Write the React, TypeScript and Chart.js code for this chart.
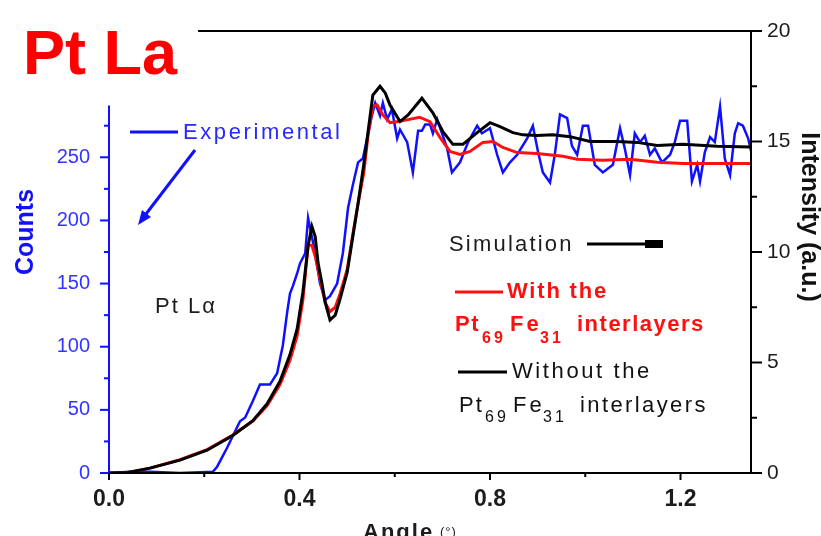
import React, { useEffect, useRef } from 'react';
import { Chart, registerables } from 'chart.js';

Chart.register(...registerables);

const FONT = '"Liberation Sans", Arial, Helvetica, sans-serif';

// ---- Experimental (Counts, left axis) ----
const expAngle = [0, 0.044, 0.086, 0.149, 0.218, 0.227, 0.248, 0.275, 0.286, 0.302, 0.317, 0.338, 0.353, 0.359, 0.365, 0.374, 0.380, 0.386, 0.395, 0.401, 0.412, 0.418, 0.426, 0.433, 0.443, 0.454, 0.464, 0.479, 0.491, 0.502, 0.512, 0.523, 0.533, 0.542, 0.552, 0.559, 0.569, 0.575, 0.584, 0.594, 0.605, 0.611, 0.626, 0.638, 0.649, 0.657, 0.664, 0.674, 0.680, 0.689, 0.710, 0.720, 0.737, 0.754, 0.773, 0.783, 0.800, 0.815, 0.827, 0.842, 0.857, 0.878, 0.890, 0.901, 0.911, 0.926, 0.936, 0.947, 0.962, 0.972, 0.983, 0.995, 1.006, 1.020, 1.037, 1.058, 1.073, 1.083, 1.094, 1.104, 1.115, 1.125, 1.136, 1.146, 1.161, 1.178, 1.188, 1.199, 1.214, 1.224, 1.235, 1.241, 1.251, 1.262, 1.272, 1.283, 1.293, 1.304, 1.314, 1.321, 1.331, 1.342, 1.348];
const expCounts = [0, 1, 1, 0, 1, 5, 20, 41, 44, 57, 70, 70, 79, 90, 101, 127, 142, 148, 158, 166, 174, 202, 187, 174, 150, 137, 140, 150, 174, 210, 228, 246, 249, 265, 283, 293, 283, 293, 280, 288, 265, 272, 262, 238, 271, 271, 276, 276, 269, 280, 257, 238, 246, 262, 275, 269, 273, 252, 238, 246, 252, 265, 275, 254, 238, 230, 252, 284, 281, 259, 252, 275, 275, 244, 238, 244, 273, 257, 236, 269, 262, 267, 252, 257, 246, 252, 262, 279, 279, 231, 244, 231, 254, 266, 262, 290, 249, 236, 269, 277, 275, 265, 255];

// ---- Simulation without the Pt69Fe31 interlayers (Intensity, right axis) ----
const withoutAngle = [0, 0.04, 0.086, 0.149, 0.206, 0.260, 0.302, 0.332, 0.359, 0.380, 0.395, 0.407, 0.418, 0.426, 0.433, 0.439, 0.447, 0.454, 0.464, 0.475, 0.485, 0.500, 0.512, 0.523, 0.535, 0.544, 0.554, 0.569, 0.580, 0.590, 0.611, 0.628, 0.657, 0.680, 0.701, 0.722, 0.743, 0.773, 0.800, 0.821, 0.848, 0.869, 0.899, 0.932, 0.968, 1.010, 1.067, 1.109, 1.151, 1.205, 1.277, 1.348];
const withoutInt = [0, 0.02, 0.22, 0.58, 1.03, 1.70, 2.37, 3.13, 4.15, 5.36, 6.52, 8.17, 10.27, 11.16, 10.7, 9.5, 8.6, 7.72, 6.92, 7.14, 7.86, 9.06, 10.7, 12.2, 13.97, 15.45, 17.1, 17.5, 17.2, 16.65, 15.9, 16.2, 16.96, 16.3, 15.45, 14.87, 14.87, 15.4, 15.85, 15.67, 15.4, 15.3, 15.27, 15.3, 15.22, 15.0, 15.0, 14.96, 14.82, 14.87, 14.78, 14.75];

// ---- Simulation with the Pt69Fe31 interlayers (Intensity, right axis) ----
const withAngle = [0, 0.04, 0.086, 0.149, 0.206, 0.260, 0.302, 0.332, 0.359, 0.380, 0.395, 0.407, 0.418, 0.426, 0.433, 0.439, 0.447, 0.454, 0.464, 0.475, 0.485, 0.500, 0.512, 0.523, 0.535, 0.544, 0.554, 0.563, 0.575, 0.590, 0.607, 0.652, 0.674, 0.695, 0.716, 0.737, 0.758, 0.785, 0.806, 0.827, 0.857, 0.899, 0.953, 0.983, 1.037, 1.094, 1.151, 1.205, 1.348];
const withInt = [0, 0.02, 0.22, 0.6, 1.06, 1.72, 2.35, 3.05, 4.0, 5.1, 6.2, 7.8, 10.3, 10.3, 9.8, 9.2, 8.4, 7.7, 7.3, 7.5, 8.1, 9.2, 10.8, 12.2, 13.6, 15.3, 16.6, 16.65, 16.2, 15.85, 15.9, 16.1, 15.9, 15.18, 14.55, 14.42, 14.55, 14.96, 15.0, 14.73, 14.5, 14.46, 14.33, 14.2, 14.15, 14.2, 14.06, 14.0, 14.0];

// ---- ticks ----
const xTicks = [0, 0.4, 0.8, 1.2];
const xMinor = [0.2, 0.6, 1.0];
const countTicks = [0, 50, 100, 150, 200, 250];
const countMinor = [25, 75, 125, 175, 225, 275];
const intTicks = [0, 5, 10, 15, 20];
const intMinor = [2.5, 7.5, 12.5, 17.5];

const X_MAX = 1.348;
const COUNTS_MAX = 350;
const COUNTS_AXIS_TOP = 291;
const INT_MAX = 20;
const TOP_LINE_START = 0.187;

const BLUE = '#1010ff';
const BLUE_TEXT = '#3434ff';
const RED = '#ff1010';
const BLACK = '#000000';
const DARK = '#1c1c1c';

function drawText(ctx: CanvasRenderingContext2D, s: string, x: number, y: number, font: string, color: string, spacing = 0, align: CanvasTextAlign = 'left') {
  ctx.font = font;
  ctx.fillStyle = color;
  ctx.textAlign = align;
  ctx.textBaseline = 'alphabetic';
  (ctx as any).letterSpacing = spacing + 'px';
  ctx.fillText(s, x, y);
  (ctx as any).letterSpacing = '0px';
}

function seg(ctx: CanvasRenderingContext2D, x1: number, y1: number, x2: number, y2: number, color: string, w: number) {
  ctx.strokeStyle = color;
  ctx.lineWidth = w;
  ctx.beginPath();
  ctx.moveTo(x1, y1);
  ctx.lineTo(x2, y2);
  ctx.stroke();
}

const decorPlugin = {
  id: 'decor',
  afterDraw(chart: any) {
    const ctx: CanvasRenderingContext2D = chart.ctx;
    const sx = chart.scales.x;
    const yl = chart.scales.yCounts;
    const yr = chart.scales.yInt;
    const { left, right, top, bottom } = chart.chartArea;
    ctx.save();
    ctx.lineCap = 'butt';

    // axes
    seg(ctx, left, yl.getPixelForValue(0) + 1, left, yl.getPixelForValue(COUNTS_AXIS_TOP), BLUE, 2);
    seg(ctx, left - 1, bottom, right + 1, bottom, BLACK, 2);
    seg(ctx, right, bottom + 1, right, top - 1, BLACK, 2);
    seg(ctx, sx.getPixelForValue(TOP_LINE_START), top, right, top, BLACK, 2);

    // left ticks
    countTicks.forEach(v => { const y = yl.getPixelForValue(v); seg(ctx, left - 9, y, left, y, BLUE, 2); });
    countMinor.forEach(v => { const y = yl.getPixelForValue(v); seg(ctx, left - 5, y, left, y, BLUE, 2); });
    // right ticks
    intTicks.forEach(v => { const y = yr.getPixelForValue(v); seg(ctx, right, y, right + 11, y, BLACK, 2); });
    intMinor.forEach(v => { const y = yr.getPixelForValue(v); seg(ctx, right, y, right + 6, y, BLACK, 2); });
    // bottom ticks
    xTicks.forEach(v => { const x = sx.getPixelForValue(v); seg(ctx, x, bottom, x, bottom + 7, BLACK, 2); });
    xMinor.forEach(v => { const x = sx.getPixelForValue(v); seg(ctx, x, bottom, x, bottom + 4, BLACK, 2); });

    // heading
    drawText(ctx, 'Pt La', 23, 74, `bold 63px ${FONT}`, '#ff0000');

    // axis titles
    ctx.save();
    ctx.translate(33, 232);
    ctx.rotate(-Math.PI / 2);
    drawText(ctx, 'Counts', 0, 0, `bold 25px ${FONT}`, BLUE, 0, 'center');
    ctx.restore();

    ctx.save();
    ctx.translate(802, 217);
    ctx.rotate(Math.PI / 2);
    drawText(ctx, 'Intensity (a.u.)', 0, 0, `bold 25px ${FONT}`, '#111111', 0, 'center');
    ctx.restore();

    drawText(ctx, 'Angle', 363, 539, `bold 22px ${FONT}`, DARK, 2);
    drawText(ctx, '(°)', 440, 536, `13px ${FONT}`, DARK, 1);

    // Experimental legend + arrow
    seg(ctx, 130, 132, 178, 132, BLUE, 3);
    drawText(ctx, 'Experimental', 183, 139, `22px ${FONT}`, '#2828ff', 2.6);
    seg(ctx, 195, 150, 146, 214, BLUE, 3);
    ctx.fillStyle = BLUE;
    ctx.beginPath();
    ctx.moveTo(138, 225);
    ctx.lineTo(151, 217);
    ctx.lineTo(142, 210);
    ctx.closePath();
    ctx.fill();

    // Pt L alpha
    drawText(ctx, 'Pt Lα', 155, 313, `22px ${FONT}`, DARK, 2);

    // Simulation legend
    drawText(ctx, 'Simulation', 449, 251, `22px ${FONT}`, DARK, 2.2);
    seg(ctx, 587, 244, 650, 244, BLACK, 3);
    ctx.fillStyle = BLACK;
    ctx.fillRect(645, 240, 18, 8);

    // With the Pt69Fe31 interlayers (red)
    seg(ctx, 455, 292, 503, 292, RED, 3);
    drawText(ctx, 'With the', 507, 298, `bold 22px ${FONT}`, RED, 1.8);
    drawText(ctx, 'Pt', 455, 331, `bold 22px ${FONT}`, RED, 1.5);
    drawText(ctx, '69', 482, 343, `bold 16px ${FONT}`, RED, 3);
    drawText(ctx, 'Fe', 510, 331, `bold 22px ${FONT}`, RED, 3);
    drawText(ctx, '31', 540, 343, `bold 16px ${FONT}`, RED, 3);
    drawText(ctx, 'interlayers', 577, 331, `bold 22px ${FONT}`, RED, 1.5);

    // Without the Pt69Fe31 interlayers (black)
    seg(ctx, 458, 372, 507, 372, BLACK, 3);
    drawText(ctx, 'Without the', 512, 378, `22px ${FONT}`, '#111111', 2.6);
    drawText(ctx, 'Pt', 459, 412, `22px ${FONT}`, '#111111', 2);
    drawText(ctx, '69', 485, 422, `16px ${FONT}`, '#111111', 3);
    drawText(ctx, 'Fe', 513, 412, `22px ${FONT}`, '#111111', 3);
    drawText(ctx, '31', 543, 422, `16px ${FONT}`, '#111111', 3);
    drawText(ctx, 'interlayers', 580, 412, `22px ${FONT}`, '#111111', 2.4);

    ctx.restore();
  },
};

export default function App() {
  const canvasRef = useRef<HTMLCanvasElement | null>(null);

  useEffect(() => {
    const canvas = canvasRef.current;
    if (!canvas) return;
    const toPts = (xs: number[], ys: number[]) => xs.map((x, i) => ({ x, y: ys[i] }));
    const chart = new Chart(canvas, {
      type: 'line',
      data: {
        datasets: [
          {
            label: 'Without the Pt69Fe31 interlayers',
            data: toPts(withoutAngle, withoutInt),
            yAxisID: 'yInt',
            borderColor: BLACK,
            borderWidth: 3,
            pointRadius: 0,
            tension: 0,
            fill: false,
          },
          {
            label: 'With the Pt69Fe31 interlayers',
            data: toPts(withAngle, withInt),
            yAxisID: 'yInt',
            borderColor: RED,
            borderWidth: 3,
            pointRadius: 0,
            tension: 0,
            fill: false,
          },
          {
            label: 'Experimental',
            data: toPts(expAngle, expCounts),
            yAxisID: 'yCounts',
            borderColor: BLUE,
            borderWidth: 2.5,
            pointRadius: 0,
            tension: 0,
            fill: false,
          },
        ],
      },
      options: {
        responsive: false,
        animation: false,
        layout: { padding: { top: 24, left: 0, right: 0, bottom: 0 } },
        plugins: { legend: { display: false }, tooltip: { enabled: false }, title: { display: false } },
        scales: {
          x: {
            type: 'linear',
            position: 'bottom',
            min: 0,
            max: X_MAX,
            grid: { display: false, drawTicks: false },
            border: { display: false },
            afterBuildTicks: (s: any) => { s.ticks = xTicks.map(v => ({ value: v })); },
            afterFit: (s: any) => { s.height = 63; },
            ticks: {
              autoSkip: false,
              maxRotation: 0,
              padding: 13,
              color: DARK,
              font: { family: FONT, size: 23, weight: 'bold' },
              callback: (v: any) => Number(v).toFixed(1),
            },
          },
          yCounts: {
            type: 'linear',
            position: 'left',
            min: 0,
            max: COUNTS_MAX,
            grid: { display: false, drawTicks: false },
            border: { display: false },
            afterBuildTicks: (s: any) => { s.ticks = countTicks.map(v => ({ value: v })); },
            afterFit: (s: any) => { s.width = 109; },
            ticks: {
              padding: 19,
              color: BLUE_TEXT,
              font: { family: FONT, size: 20 },
              callback: (v: any) => String(v),
            },
          },
          yInt: {
            type: 'linear',
            position: 'right',
            min: 0,
            max: INT_MAX,
            grid: { display: false, drawTicks: false },
            border: { display: false },
            afterBuildTicks: (s: any) => { s.ticks = intTicks.map(v => ({ value: v })); },
            afterFit: (s: any) => { s.width = 70; },
            ticks: {
              padding: 16,
              color: DARK,
              font: { family: FONT, size: 21 },
              callback: (v: any) => String(v),
            },
          },
        },
      } as any,
      plugins: [decorPlugin],
    });
    return () => chart.destroy();
  }, []);

  return (
    <div style={{ position: 'absolute', left: 0, top: 0, width: 821, height: 536, background: '#ffffff' }}>
      <canvas ref={canvasRef} width={821} height={536} style={{ display: 'block', width: 821, height: 536 }} />
    </div>
  );
}
